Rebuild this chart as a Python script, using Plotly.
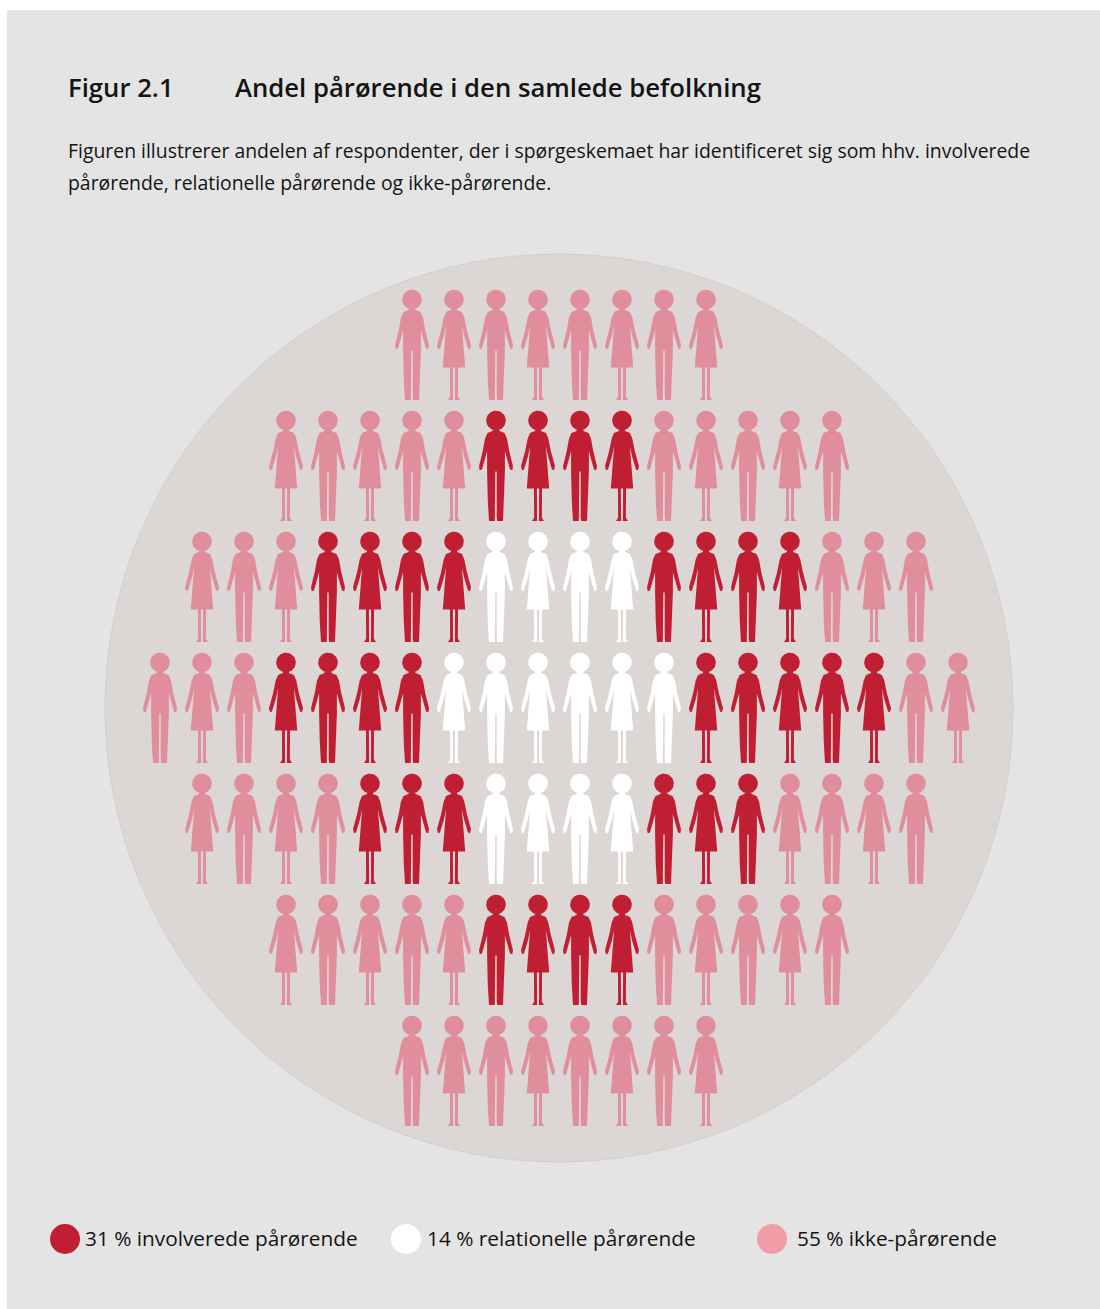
import math
import plotly.graph_objects as go

# --- data -------------------------------------------------------------
title_number = "Figur 2.1"
title_text = "Andel pårørende i den samlede befolkning"
subtitle_lines = [
    "Figuren illustrerer andelen af respondenter, der i spørgeskemaet har identificeret sig som hhv. involverede",
    "pårørende, relationelle pårørende og ikke-pårørende.",
]
legend_labels = ["31 % involverede pårørende", "14 % relationelle pårørende", "55 % ikke-pårørende"]
group_keys = ["I", "R", "N"]
group_names = ["Involverede pårørende", "Relationelle pårørende", "Ikke-pårørende"]
# one character per column; I = involveret, R = relationel, N = ikke-pårørende
row_1 = "      NNNNNNNN      "
row_2 = "   NNNNNIIIINNNNN   "
row_3 = " NNNIIIIRRRRIIIINNN "
row_4 = "NNNIIIIRRRRRRIIIIINN"
row_5 = " NNNNIIIRRRRIIINNNN "
row_6 = "   NNNNNIIIINNNNN   "
row_7 = "      NNNNNNNN      "
rows = [row_1, row_2, row_3, row_4, row_5, row_6, row_7]

# --- style / layout ---------------------------------------------------
W, H = 1100, 1309
BG = "#E4E4E4"
DISC = "#DCD7D5"
fills = {"I": "#C01F33", "R": "#FFFFFF", "N": "#E08E9B"}
legend_fills = ["#C01F33", "#FFFFFF", "#F09DA6"]
legend_marker_x = [65, 406, 772]
legend_text_x = [83, 425, 795]
COL0, COL_STEP = 160, 42
ROW0, ROW_STEP = 299.5, 121
FONT = "Open Sans"
TEXT = "#141414"

# Person glyphs: right half of the outline, relative to the head centre
man_half = [(3, 7), (3.5, 10.5), (8.5, 12.5), (11, 18), (13.3, 30.7), (17, 45.7), (16.3, 49.7), (14, 49),
            (10.3, 35.7), (8.9, 30.7), (8.9, 50.7), (8.2, 80.7), (7.2, 97), (7, 100.5),
            (1.2, 100.5), (0.7, 97), (0.7, 51.3), (0, 50.7)]
woman_half = [(3, 7), (3, 10.5), (8, 12.5), (10.3, 18), (12.9, 30.7), (17, 45.7), (16, 49.7), (14, 49),
              (10, 35.7), (7.9, 25.7), (11.2, 68), (4, 68), (3.9, 97.3), (6, 100.5),
              (0.9, 100.5), (1.1, 68), (0, 68)]
HEAD_R = 9.8
head = [(HEAD_R * math.cos(2 * math.pi * k / 36), HEAD_R * math.sin(2 * math.pi * k / 36)) for k in range(37)]


def glyph_polys(is_man):
    half = man_half if is_man else woman_half
    body = half + [(-x, y) for x, y in reversed(half[:-1])]
    body = body + [body[0]]
    return [body, head]


xs = {k: [] for k in group_keys}
ys = {k: [] for k in group_keys}
for r, row in enumerate(rows):
    for c, code in enumerate(row):
        if code == " ":
            continue
        cx = COL0 + COL_STEP * c
        cy = ROW0 + ROW_STEP * r
        for poly in glyph_polys(c % 2 == 0):
            xs[code] += [cx + p[0] for p in poly] + [None]
            ys[code] += [cy + p[1] for p in poly] + [None]

fig = go.Figure()
for key, name in zip(group_keys, group_names):
    fig.add_trace(go.Scatter(x=xs[key], y=ys[key], mode="lines", fill="toself", fillcolor=fills[key],
                             line=dict(width=0, color=fills[key]), name=name, hoverinfo="name",
                             showlegend=False))

fig.add_trace(go.Scatter(x=legend_marker_x, y=[1239] * 3, mode="markers",
                         marker=dict(size=30, color=legend_fills, line=dict(width=0)),
                         text=legend_labels, hoverinfo="text", showlegend=False))

annotations = [
    dict(x=66, y=87, text=title_number, font=dict(size=25.7, weight=600)),
    dict(x=233, y=87, text=title_text, font=dict(size=25.7, weight=600)),
    dict(x=66, y=150, text=subtitle_lines[0], font=dict(size=19.4)),
    dict(x=66, y=182, text=subtitle_lines[1], font=dict(size=19.4)),
]
for tx, lab in zip(legend_text_x, legend_labels):
    annotations.append(dict(x=tx, y=1238, text=lab, font=dict(size=20.8)))
for a in annotations:
    a.update(xref="x", yref="y", xanchor="left", yanchor="middle", showarrow=False, align="left")
    a["font"] = dict(family=FONT, color=TEXT, **a["font"])

fig.update_layout(
    width=W, height=H, margin=dict(l=0, r=0, t=0, b=0), autosize=False,
    paper_bgcolor="#FFFFFF", plot_bgcolor="#FFFFFF", showlegend=False,
    xaxis=dict(range=[0, W], visible=False, fixedrange=True),
    yaxis=dict(range=[H, 0], visible=False, fixedrange=True),
    annotations=annotations,
    shapes=[
        dict(type="rect", xref="x", yref="y", x0=7, x1=1100, y0=10, y1=1309, fillcolor=BG,
             line=dict(width=0), layer="below"),
        dict(type="circle", xref="x", yref="y", x0=105, x1=1013, y0=254, y1=1162, fillcolor=DISC,
             line=dict(width=0.5, color="#C4C0BE"), layer="below"),
    ],
)

fig.write_html("out.html", config={"displayModeBar": False},
               post_script="document.body.style.margin='0';")
